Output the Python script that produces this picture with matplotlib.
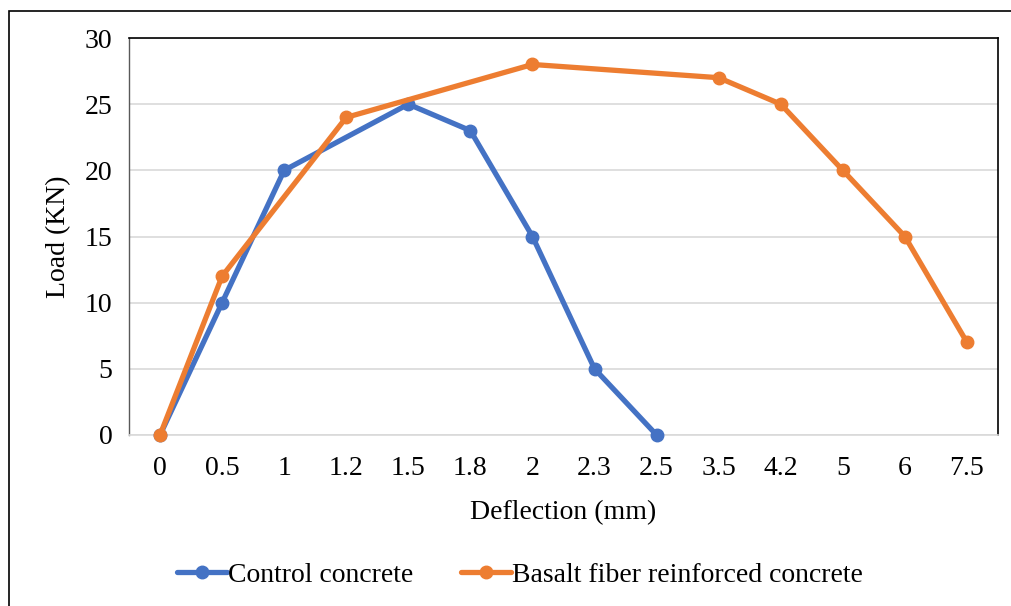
import numpy as np
import matplotlib
matplotlib.use("Agg")
import matplotlib.pyplot as plt
from matplotlib.patches import Rectangle

categories = ["0", "0.5", "1", "1.2", "1.5", "1.8", "2", "2.3", "2.5",
              "3.5", "4.2", "5", "6", "7.5"]
control = [0, 10, 20, None, 25, 23, 15, 5, 0, None, None, None, None, None]
basalt = [0, 12, None, 24, None, None, 28, None, None, 27, 25, 20, 15, 7]

plt.rcParams["font.family"] = ["Liberation Serif", "DejaVu Serif"]

fig = plt.figure(figsize=(10.12, 6.06), dpi=100)
ax = fig.add_axes([129 / 1012, 1 - 435 / 606, 869 / 1012, 397 / 606])

# outer frame (cut at right and bottom like the source image)
fig.patches.append(Rectangle((9 / 1012, -0.1), 1.1, 1 - 11 / 606 + 0.1,
                             transform=fig.transFigure, fill=False,
                             edgecolor="black", linewidth=1.2))


def plot_series(vals, color, label):
    x = [i for i, v in enumerate(vals) if v is not None]
    y = [v for v in vals if v is not None]
    ax.plot(x, y, color=color, linewidth=3.8, marker="o", markersize=9,
            label=label, solid_capstyle="round", zorder=3, clip_on=False)


plot_series(control, "#4472C4", "Control concrete")
plot_series(basalt, "#ED7D31", "Basalt fiber reinforced concrete")

ax.set_xlim(-0.5, len(categories) - 0.5)
ax.set_ylim(0, 30)
ax.set_xticks(range(len(categories)))
ax.set_xticklabels(categories)
ax.set_yticks(range(0, 31, 5))
ax.tick_params(axis="both", length=0, labelsize=20)
ax.tick_params(axis="x", pad=15)
ax.tick_params(axis="y", pad=12)
ax.yaxis.grid(True, color="#D9D9D9", linewidth=1.2)
ax.set_axisbelow(True)

for s in ["top", "right"]:
    ax.spines[s].set_color("black")
    ax.spines[s].set_linewidth(1.2)
ax.spines["left"].set_color("#595959")
ax.spines["left"].set_linewidth(1.0)
ax.spines["bottom"].set_color("#D9D9D9")
ax.spines["bottom"].set_linewidth(1.2)

ax.set_xlabel("Deflection (mm)", fontsize=20, labelpad=14)
ax.set_ylabel("Load (KN)", fontsize=20, labelpad=10)

fig.legend(loc="center", bbox_to_anchor=(520 / 1012, 1 - 575 / 606), ncol=2,
           frameon=False, fontsize=20, handlelength=1.8, handletextpad=0.05,
           columnspacing=1.7)

fig.savefig("out.png", dpi=100)
